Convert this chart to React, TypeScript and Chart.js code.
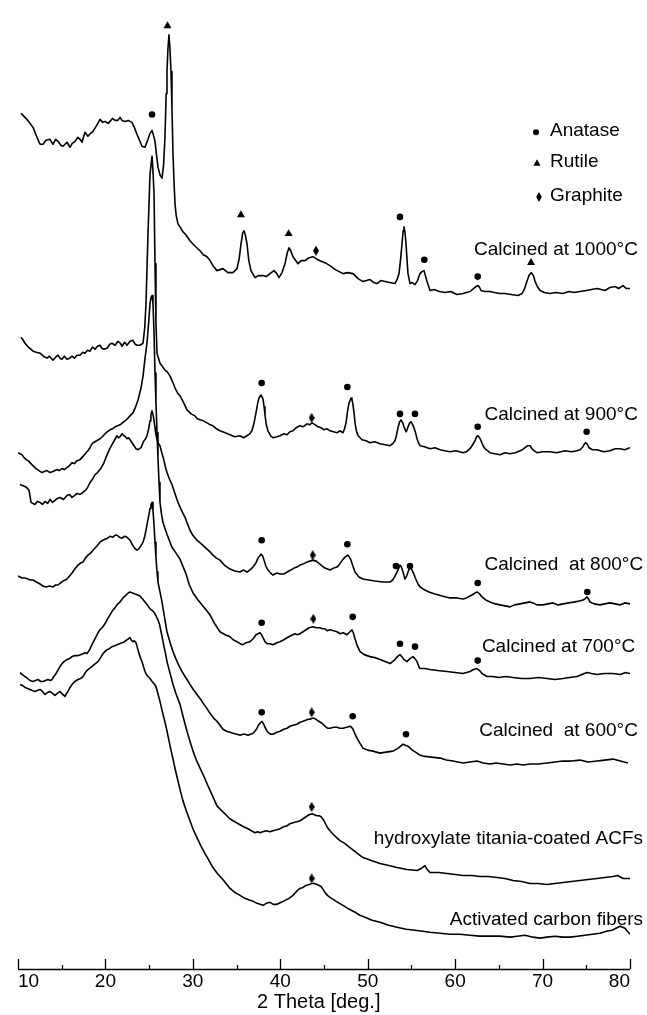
import React, { useEffect, useRef } from 'react';
import { Chart, registerables } from 'chart.js';

Chart.register(...registerables);

// ---------- axis ----------
const xTicks = [10, 20, 30, 40, 50, 60, 70, 80];
const xMinorTicks = [15, 25, 35, 45, 55, 65, 75];
const xTitle = '2 Theta [deg.]';

// ---------- series names (top to bottom) ----------
const seriesNames = [
  'Calcined at 1000°C',
  'Calcined at 900°C',
  'Calcined  at 800°C',
  'Calcined at 700°C',
  'Calcined  at 600°C',
  'hydroxylate titania-coated ACFs',
  'Activated carbon fibers',
];

// ---------- XRD patterns: [2θ, intensity (a.u., stacked)] ----------
const xrd1000: [number, number][] = [[10.34,860],[11.03,854],[11.72,846],[12.17,836],[12.52,829],[12.86,829],[13.2,833],[13.66,834],[14.0,829],[14.3,834],[14.58,832],[14.9,828],[15.15,827],[15.6,831],[15.95,826],[16.2,830],[16.52,832],[16.86,836],[17.1,834],[17.32,831],[17.66,841],[18.0,837],[18.3,840],[18.58,842],[19.0,848],[19.38,854],[19.7,851],[19.95,852],[20.3,850],[20.52,852],[20.8,855],[21.1,853],[21.4,853],[21.67,856],[21.9,853],[22.24,852],[22.6,853],[23.04,851],[23.3,846],[23.61,839],[23.9,833],[24.18,827],[24.53,826],[24.87,834],[25.1,840],[25.33,843],[25.5,838],[25.67,832],[25.85,818],[26.01,806],[26.25,798],[26.47,795],[26.65,808],[26.81,836],[26.95,880],[27.04,902],[27.15,925],[27.27,939],[27.38,925],[27.5,902],[27.61,865],[27.73,819],[27.85,790],[27.96,769],[28.1,757],[28.3,749],[28.53,746],[28.87,741],[29.2,738],[29.67,732],[30.2,727],[30.82,722],[31.2,718],[31.62,716],[31.9,713],[32.3,707],[32.76,702],[33.1,703],[33.45,704],[34.0,700],[34.59,700],[35.05,704],[35.3,714],[35.51,729],[35.7,740],[35.85,742],[36.0,738],[36.19,729],[36.4,712],[36.65,702],[37.11,695],[37.5,697],[38.02,697],[38.4,696],[38.82,699],[39.28,702],[39.6,699],[39.85,695],[40.2,700],[40.54,709],[40.8,720],[41.0,725],[41.2,722],[41.45,716],[42.03,709],[42.4,712],[42.83,712],[43.3,715],[43.74,716],[44.1,714],[44.54,712],[45.1,710],[45.68,707],[46.3,703],[47.17,699],[47.7,700],[48.32,699],[48.9,694],[49.46,691],[50.26,693],[50.7,690],[51.06,689],[51.5,692],[51.98,691],[52.5,690],[53.12,689],[53.4,694],[53.58,699],[53.78,715],[53.92,729],[54.05,742],[54.15,746],[54.27,740],[54.38,729],[54.5,712],[54.61,699],[54.84,689],[55.1,690],[55.41,688],[55.7,692],[55.98,699],[56.2,701],[56.44,702],[56.6,697],[56.78,691],[57.13,682],[57.6,683],[58.2,681],[58.84,680],[59.5,681],[60.2,678],[60.9,679],[61.3,680],[61.7,681],[62.1,684],[62.39,686],[62.62,687],[62.8,685],[62.96,682],[63.4,681],[63.99,681],[64.5,680],[65.1,679],[65.7,679],[66.4,678],[67.19,677],[67.65,679],[67.95,684],[68.2,691],[68.45,697],[68.7,700],[68.95,697],[69.15,691],[69.4,686],[69.71,682],[70.2,680],[70.85,679],[71.5,680],[72.34,679],[73.0,681],[73.6,680],[74.28,681],[75.0,682],[75.6,683],[76.23,684],[76.7,683],[77.14,682],[77.7,685],[78.28,686],[78.7,684],[79.2,687],[79.6,684],[80.0,684]];

const xrd900: [number, number][] = [[10.34,635],[10.6,632],[10.8,629],[11.2,625],[11.72,621],[12.1,620],[12.52,619],[12.9,616],[13.32,614],[13.6,616],[14.0,612],[14.3,615],[14.58,617],[14.8,614],[15.03,613],[15.3,616],[15.6,613],[15.9,614],[16.18,616],[16.45,614],[16.75,617],[17.09,617],[17.4,620],[17.66,619],[17.95,622],[18.24,621],[18.5,625],[18.81,623],[19.1,626],[19.38,627],[19.6,624],[19.84,623],[20.18,624],[20.5,628],[20.75,629],[21.1,627],[21.44,631],[21.7,629],[21.9,626],[22.2,630],[22.47,627],[22.81,631],[23.15,632],[23.4,628],[23.61,627],[23.95,627],[24.3,629],[24.5,645],[24.64,669],[24.87,739],[25.1,799],[25.33,817],[25.45,800],[25.56,779],[25.67,709],[25.78,649],[25.9,619],[26.24,609],[26.5,606],[26.81,602],[27.1,600],[27.39,596],[27.7,590],[27.96,584],[28.25,579],[28.53,576],[28.9,570],[29.33,562],[29.8,558],[30.24,556],[30.5,553],[30.82,552],[31.2,551],[31.62,549],[32.0,547],[32.3,546],[32.7,543],[33.1,541],[33.7,539],[34.25,537],[34.8,535],[35.39,536],[35.8,534],[36.19,536],[36.5,538],[36.76,541],[37.0,549],[37.22,559],[37.4,568],[37.56,574],[37.79,577],[38.02,573],[38.15,565],[38.25,557],[38.4,547],[38.59,541],[38.9,536],[39.17,534],[39.6,535],[39.97,536],[40.4,538],[40.77,537],[41.1,540],[41.45,541],[41.8,544],[42.25,546],[42.6,545],[43.05,548],[43.35,547],[43.63,549],[44.0,547],[44.31,545],[44.7,544],[45.0,542],[45.35,543],[45.68,541],[46.1,540],[46.49,539],[46.8,541],[47.17,539],[47.35,543],[47.52,549],[47.7,561],[47.86,569],[48.09,574],[48.2,572],[48.32,567],[48.45,558],[48.55,549],[48.7,541],[48.9,536],[49.35,532],[49.8,531],[50.26,529],[50.8,530],[51.41,528],[52.0,527],[52.55,526],[52.85,528],[53.12,531],[53.3,537],[53.46,544],[53.65,550],[53.81,552],[54.0,549],[54.15,545],[54.38,540],[54.5,542],[54.61,545],[54.8,549],[54.95,550],[55.1,548],[55.29,544],[55.5,538],[55.64,533],[55.8,529],[55.98,526],[56.5,525],[57.12,523],[57.7,524],[58.27,522],[58.8,521],[59.41,520],[60.1,521],[60.9,519],[61.3,520],[61.7,523],[62.0,527],[62.27,531],[62.45,535],[62.62,536],[62.8,534],[62.96,531],[63.2,526],[63.41,523],[63.7,521],[63.99,519],[64.5,518],[65.13,517],[65.7,519],[66.27,518],[66.9,519],[67.42,521],[67.7,522],[67.99,524],[68.3,526],[68.56,526],[68.8,523],[69.02,521],[69.36,519],[70.0,520],[70.85,520],[71.6,519],[72.57,521],[73.3,520],[73.94,521],[74.3,522],[74.62,525],[74.8,528],[74.97,529],[75.15,527],[75.31,524],[75.7,522],[76.23,522],[77.0,520],[77.71,521],[78.3,523],[78.85,523],[79.4,522],[80.0,524]];

const xrd800: [number, number][] = [[10.23,487],[10.5,486],[10.8,485],[11.1,483],[11.26,481],[11.4,474],[11.49,469],[11.7,468],[11.94,467],[12.2,470],[12.52,469],[12.8,467],[13.09,470],[13.4,468],[13.66,472],[13.95,469],[14.23,471],[14.5,473],[14.8,474],[15.2,472],[15.6,476],[15.9,477],[16.18,474],[16.5,476],[16.75,478],[17.1,477],[17.43,479],[17.7,481],[17.89,483],[18.24,489],[18.5,492],[18.81,497],[19.1,499],[19.38,502],[19.6,505],[19.84,509],[20.05,514],[20.29,519],[20.5,523],[20.75,527],[21.0,531],[21.32,536],[21.5,534],[21.67,535],[21.9,538],[22.12,536],[22.3,535],[22.47,533],[22.65,534],[22.81,532],[23.05,529],[23.27,526],[23.5,523],[23.73,522],[23.9,523],[24.07,524],[24.25,528],[24.41,531],[24.6,533],[24.75,536],[24.95,543],[25.1,551],[25.2,557],[25.33,561],[25.45,557],[25.56,551],[25.67,544],[25.78,537],[26.01,529],[26.24,526],[26.45,519],[26.7,511],[26.85,505],[27.04,499],[27.3,493],[27.61,487],[27.95,478],[28.3,469],[28.7,461],[29.1,454],[29.4,447],[29.67,441],[30.0,436],[30.47,431],[31.0,427],[31.62,422],[32.0,419],[32.3,416],[32.7,413],[33.1,411],[33.6,406],[34.25,402],[34.8,400],[35.39,399],[35.8,401],[36.19,399],[36.5,401],[36.88,404],[37.2,408],[37.45,413],[37.79,417],[38.0,415],[38.14,411],[38.35,405],[38.59,401],[38.9,398],[39.17,396],[39.6,398],[39.97,397],[40.4,397],[40.77,399],[41.2,401],[41.57,403],[41.9,404],[42.25,406],[42.6,407],[43.05,409],[43.4,410],[43.74,411],[44.1,410],[44.54,407],[44.8,405],[45.11,403],[45.4,402],[45.68,401],[46.1,403],[46.49,404],[46.7,406],[46.94,409],[47.2,412],[47.4,414],[47.74,416],[47.9,414],[48.09,411],[48.3,405],[48.55,399],[49.0,394],[49.46,392],[50.1,391],[50.83,390],[51.7,389],[52.55,389],[52.85,391],[53.12,395],[53.4,400],[53.69,406],[53.85,404],[54.04,399],[54.26,392],[54.45,395],[54.61,399],[54.84,404],[55.0,402],[55.18,399],[55.45,393],[55.75,387],[56.0,384],[56.32,382],[57.0,379],[57.69,377],[58.5,375],[59.41,373],[60.2,373],[60.9,372],[61.3,373],[61.7,375],[62.1,377],[62.5,379],[62.8,377],[63.07,374],[63.5,371],[63.99,369],[64.6,367],[65.13,366],[65.7,365],[66.27,364],[66.8,366],[67.42,367],[68.0,368],[68.56,369],[68.9,368],[69.36,366],[70.05,366],[70.6,367],[71.19,368],[71.8,366],[72.34,367],[73.0,368],[73.71,369],[74.2,370],[74.62,371],[74.85,372],[75.08,374],[75.25,372],[75.42,369],[75.9,367],[76.57,366],[77.1,367],[77.71,368],[78.3,367],[78.85,366],[79.4,368],[80.0,367]];

const xrd700: [number, number][] = [[10.0,519],[10.23,518],[10.46,517],[10.7,514],[10.92,512],[11.15,511],[11.37,509],[11.7,506],[12.06,503],[12.4,501],[12.75,499],[13.0,500],[13.32,501],[13.5,500],[13.66,499],[14.0,500],[14.46,502],[14.7,501],[15.03,503],[15.3,502],[15.6,504],[15.9,506],[16.18,509],[16.45,508],[16.75,511],[17.09,512],[17.4,515],[17.78,519],[18.0,521],[18.24,524],[18.4,527],[18.58,529],[19.0,531],[19.38,533],[19.65,535],[19.95,538],[20.2,540],[20.52,542],[20.8,543],[21.1,545],[21.4,546],[21.67,547],[21.95,549],[22.24,551],[22.5,553],[22.81,556],[23.15,559],[23.45,565],[23.73,572],[24.07,584],[24.3,596],[24.53,614],[24.75,629],[24.98,654],[25.1,669],[25.22,675],[25.33,677],[25.44,669],[25.56,639],[25.67,599],[25.78,569],[25.9,539],[26.01,514],[26.13,489],[26.24,469],[26.4,458],[26.58,449],[26.8,443],[27.04,437],[27.3,431],[27.61,424],[28.0,419],[28.53,412],[28.9,404],[29.22,397],[29.6,386],[30.02,378],[30.5,372],[31.05,366],[31.5,361],[31.96,356],[32.5,347],[33.1,339],[33.7,336],[34.25,334],[34.6,331],[35.05,329],[35.4,327],[35.73,326],[36.1,328],[36.53,329],[36.9,332],[37.22,336],[37.45,337],[37.68,338],[37.85,336],[38.02,333],[38.25,329],[38.48,327],[38.8,327],[39.17,326],[39.6,328],[39.97,329],[40.4,331],[40.77,333],[41.2,335],[41.68,337],[41.95,336],[42.25,337],[42.6,339],[42.94,341],[43.3,343],[43.74,344],[44.1,343],[44.54,343],[44.8,342],[45.11,342],[45.4,340],[45.68,341],[46.1,340],[46.49,339],[46.83,337],[47.2,338],[47.63,336],[47.97,339],[48.2,341],[48.35,338],[48.55,332],[48.8,325],[49.12,319],[49.6,316],[50.26,314],[50.8,313],[51.41,311],[52.0,309],[52.55,307],[52.85,309],[53.12,311],[53.4,314],[53.69,316],[53.9,314],[54.15,311],[54.49,309],[54.84,312],[55.18,314],[55.4,312],[55.64,309],[55.8,305],[55.98,302],[56.5,302],[57.12,301],[58.0,300],[59.07,299],[60.0,298],[60.9,297],[61.3,298],[61.7,299],[62.1,301],[62.5,302],[62.8,300],[63.07,297],[63.64,294],[64.3,294],[65.0,293],[65.8,294],[66.62,293],[67.6,292],[68.56,292],[69.5,293],[70.5,292],[71.4,291],[72.34,292],[73.1,293],[73.94,294],[74.5,296],[75.08,298],[75.6,297],[76.23,296],[77.1,297],[78.05,297],[78.9,296],[79.5,298],[80.0,297]];

const xrd600: [number, number][] = [[10.0,395],[10.23,394],[10.46,393],[10.8,393],[11.14,392],[11.4,391],[11.72,391],[12.1,389],[12.52,387],[12.85,385],[13.2,384],[13.6,385],[14.0,384],[14.3,386],[14.58,386],[14.85,388],[15.15,390],[15.4,391],[15.6,392],[15.9,395],[16.18,398],[16.5,402],[16.86,406],[17.15,408],[17.43,409],[17.7,413],[18.0,416],[18.3,418],[18.58,421],[19.0,425],[19.38,429],[19.7,431],[19.95,432],[20.25,433],[20.52,435],[20.87,434],[21.1,436],[21.32,436],[21.6,434],[21.9,433],[22.2,435],[22.47,434],[22.81,431],[23.05,427],[23.27,424],[23.45,422],[23.61,421],[23.8,422],[23.95,424],[24.1,426],[24.3,429],[24.5,435],[24.64,441],[24.8,449],[24.98,457],[25.1,463],[25.21,467],[25.33,469],[25.44,461],[25.56,446],[25.67,429],[25.78,414],[25.9,399],[26.01,389],[26.24,379],[26.47,369],[26.75,354],[27.04,339],[27.4,328],[27.73,319],[28.0,313],[28.3,307],[28.7,300],[29.1,294],[29.4,290],[29.67,286],[30.05,281],[30.47,276],[30.9,271],[31.27,266],[31.6,262],[31.96,257],[32.4,252],[32.76,249],[33.1,245],[33.45,241],[33.85,239],[34.25,238],[34.6,237],[35.05,236],[35.4,235],[35.73,236],[36.0,236],[36.31,235],[36.6,236],[36.88,237],[37.1,239],[37.34,242],[37.5,245],[37.68,247],[37.91,249],[38.1,246],[38.25,243],[38.5,239],[38.71,237],[38.95,236],[39.17,236],[39.6,238],[39.97,239],[40.4,241],[40.77,242],[41.1,244],[41.45,245],[41.91,246],[42.25,248],[42.6,249],[42.9,250],[43.17,251],[43.4,251],[43.63,252],[43.85,252],[44.08,251],[44.4,249],[44.77,247],[45.0,245],[45.23,243],[45.45,242],[45.68,242],[46.1,243],[46.49,243],[46.8,242],[47.17,242],[47.6,243],[47.97,244],[48.15,243],[48.32,241],[48.55,236],[48.77,232],[49.1,227],[49.46,222],[50.0,220],[50.6,219],[51.0,218],[51.41,217],[52.1,218],[52.89,219],[53.5,222],[54.04,226],[54.3,225],[54.61,224],[55.1,220],[55.64,217],[55.95,215],[56.32,214],[57.3,213],[58.27,212],[59.0,210],[59.75,209],[60.3,208],[60.9,207],[61.7,208],[62.5,209],[63.2,207],[63.99,206],[64.7,207],[65.47,206],[66.3,205],[67.07,206],[67.8,205],[68.56,206],[69.5,206],[70.5,207],[71.4,208],[72.34,209],[73.3,209],[74.28,210],[75.2,208],[76.23,209],[77.1,210],[78.05,211],[78.9,209],[79.77,207]];

const xrdHydroxylate: [number, number][] = [[10.23,298],[10.5,296],[10.8,294],[11.1,292],[11.37,290],[11.72,289],[12.0,290],[12.29,291],[12.6,289],[12.86,289],[13.15,290],[13.43,291],[13.7,290],[13.89,291],[14.1,294],[14.35,297],[14.6,301],[14.8,304],[15.05,307],[15.26,309],[15.6,311],[15.9,312],[16.18,314],[16.5,315],[16.86,315],[17.15,316],[17.43,317],[17.7,318],[17.89,317],[18.2,321],[18.46,326],[18.7,330],[18.92,334],[19.15,338],[19.38,341],[19.72,344],[19.95,347],[20.18,351],[20.52,356],[20.87,361],[21.1,363],[21.32,366],[21.67,369],[22.01,373],[22.25,375],[22.47,377],[22.81,379],[23.1,378],[23.38,377],[23.7,376],[23.95,375],[24.25,372],[24.53,369],[24.8,366],[25.1,362],[25.4,360],[25.67,357],[26.01,351],[26.2,346],[26.36,339],[26.55,331],[26.7,324],[26.9,316],[27.04,309],[27.4,297],[27.73,286],[28.1,276],[28.53,266],[28.9,253],[29.33,239],[29.7,228],[30.02,219],[30.4,210],[30.82,202],[31.3,193],[31.73,184],[32.2,175],[32.76,164],[33.2,160],[33.68,156],[34.1,152],[34.59,149],[35.0,147],[35.39,145],[35.8,143],[36.31,141],[36.7,139],[37.11,137],[37.4,138],[37.68,137],[38.0,138],[38.37,139],[38.8,138],[39.17,139],[39.6,140],[39.97,141],[40.4,143],[40.77,144],[41.1,146],[41.45,147],[41.9,148],[42.25,149],[42.6,151],[42.94,153],[43.3,155],[43.63,156],[43.9,155],[44.2,154],[44.45,154],[44.66,153],[44.85,151],[45.0,149],[45.17,146],[45.34,143],[45.5,141],[45.68,139],[46.2,134],[46.83,129],[47.4,126],[47.97,122],[48.7,117],[49.46,112],[50.4,109],[51.41,106],[52.4,104],[53.35,102],[54.5,100],[55.64,99],[56.1,101],[56.55,104],[56.8,100],[57.12,97],[58.1,97],[59.07,96],[60.0,95],[60.9,94],[61.9,94],[62.84,93],[63.8,93],[64.79,92],[65.7,91],[66.62,89],[67.6,88],[68.56,86],[69.5,86],[70.5,85],[71.4,86],[72.34,87],[73.3,88],[74.28,89],[75.2,90],[76.23,91],[77.1,92],[78.05,93],[78.6,94],[79.2,91],[80.0,91]];

const xrdACF: [number, number][] = [[10.23,286],[10.5,285],[10.8,283],[11.1,282],[11.37,281],[11.65,280],[11.94,279],[12.2,280],[12.52,281],[12.8,279],[13.09,276],[13.4,278],[13.66,279],[13.95,277],[14.23,275],[14.5,277],[14.8,279],[15.1,276],[15.38,274],[15.55,277],[15.72,279],[15.95,283],[16.18,286],[16.5,289],[16.86,291],[17.15,292],[17.43,294],[17.7,298],[18.0,301],[18.3,303],[18.58,305],[18.85,307],[19.15,309],[19.45,313],[19.72,317],[19.95,319],[20.18,321],[20.45,322],[20.75,324],[21.05,325],[21.32,326],[21.6,327],[21.9,328],[22.2,329],[22.47,331],[22.65,332],[22.81,333],[23.0,330],[23.15,329],[23.3,330],[23.5,328],[23.65,323],[23.84,317],[24.0,313],[24.18,309],[24.35,304],[24.53,299],[24.7,296],[24.87,294],[25.1,292],[25.33,289],[25.55,287],[25.78,284],[26.0,277],[26.24,269],[26.45,261],[26.7,252],[26.95,243],[27.16,234],[27.45,222],[27.73,211],[28.0,200],[28.3,189],[28.6,178],[28.87,169],[29.25,159],[29.67,149],[30.05,140],[30.47,132],[30.9,124],[31.39,116],[31.85,109],[32.3,102],[32.8,96],[33.33,91],[33.8,86],[34.25,81],[34.8,77],[35.39,74],[35.95,71],[36.53,69],[36.9,68],[37.34,66],[37.7,65],[38.02,64],[38.4,66],[38.82,67],[39.2,65],[39.62,65],[40.1,67],[40.54,69],[41.0,71],[41.45,74],[41.85,78],[42.25,81],[42.6,82],[42.94,84],[43.3,85],[43.63,86],[43.9,86],[44.2,85],[44.45,84],[44.66,83],[44.9,80],[45.11,77],[45.4,74],[45.68,72],[46.4,68],[47.17,64],[47.9,60],[48.55,57],[49.1,54],[49.69,52],[50.5,49],[51.41,47],[52.4,44],[53.35,42],[54.4,40],[55.41,39],[56.3,38],[57.12,37],[58.3,36],[59.41,35],[60.5,35],[61.7,34],[62.8,33],[63.99,33],[65.1,33],[66.27,32],[67.1,33],[67.99,34],[68.9,32],[69.71,31],[70.5,32],[71.42,33],[72.3,32],[73.14,32],[74.0,33],[74.85,34],[75.7,35],[76.57,36],[77.3,38],[77.94,39],[78.4,41],[78.85,43],[79.15,42],[79.43,41],[79.7,38],[80.0,35]];

// ---------- phase markers: [2θ, intensity] ----------
const anataseMarks: [number, number][] = [[25.33,859],[53.69,756],[56.47,713],[62.58,696],[37.87,589],[47.67,585],[53.69,558],[55.41,558],[62.58,545],[75.04,540],[37.87,431],[47.67,427],[53.23,405],[54.84,405],[62.58,388],[75.12,379],[37.87,348],[48.28,354],[53.69,327],[55.41,324],[62.58,310],[37.87,258],[48.28,254],[54.38,236]];
const rutileMarks: [number, number][] = [[27.1,948],[35.5,758],[40.96,739],[68.68,710]];
const graphiteMarks: [number, number][] = [[44.08,722],[43.59,554],[43.7,416],[43.78,352],[43.59,258],[43.59,163],[43.59,91]];

const legendNames = ['Anatase', 'Rutile', 'Graphite'];

// label anchors (right edge / baseline), in data units
const labelAnchorX = [80.9, 80.9, 81.5, 80.6, 80.9, 81.5, 81.5];
const labelAnchorY = [718, 552, 401, 319, 234, 126, 44];
// legend anchors in data units
const legendMarkX = [69.25, 69.36, 69.59];
const legendMarkY = [841, 810, 776];
const legendTextX = 70.85;
const legendTextY = [837, 806, 772];

const FONT = '"Liberation Sans", Arial, Helvetica, sans-serif';

function makeDiamond(w: number, h: number): HTMLCanvasElement {
  const c = document.createElement('canvas');
  c.width = w;
  c.height = h;
  const ctx = c.getContext('2d')!;
  ctx.fillStyle = '#000';
  ctx.beginPath();
  ctx.moveTo(w / 2, 0);
  ctx.lineTo(w, h / 2);
  ctx.lineTo(w / 2, h);
  ctx.lineTo(0, h / 2);
  ctx.closePath();
  ctx.fill();
  return c;
}

const decorPlugin = {
  id: 'decor',
  afterDraw(chart: any) {
    const { ctx, chartArea } = chart;
    const xs = chart.scales.x;
    const ys = chart.scales.y;
    ctx.save();
    const b = chartArea.bottom;
    // axis line
    ctx.strokeStyle = '#000';
    ctx.lineWidth = 1.5;
    ctx.beginPath();
    ctx.moveTo(xs.getPixelForValue(xTicks[0]), b + 0.5);
    ctx.lineTo(xs.getPixelForValue(xTicks[xTicks.length - 1]), b + 0.5);
    ctx.stroke();
    // inward ticks
    ctx.lineWidth = 1.3;
    xTicks.forEach((v) => {
      const px = Math.round(xs.getPixelForValue(v)) + 0.5;
      ctx.beginPath();
      ctx.moveTo(px, b);
      ctx.lineTo(px, b - 10);
      ctx.stroke();
    });
    xMinorTicks.forEach((v) => {
      const px = Math.round(xs.getPixelForValue(v)) + 0.5;
      ctx.beginPath();
      ctx.moveTo(px, b);
      ctx.lineTo(px, b - 4);
      ctx.stroke();
    });
    // tick labels
    ctx.fillStyle = '#000';
    ctx.font = `19px ${FONT}`;
    ctx.textBaseline = 'alphabetic';
    xTicks.forEach((v, i) => {
      ctx.textAlign = i === 0 ? 'left' : i === xTicks.length - 1 ? 'right' : 'center';
      ctx.fillText(String(v), xs.getPixelForValue(v), b + 18);
    });
    // axis title
    ctx.font = `20px ${FONT}`;
    ctx.textAlign = 'center';
    ctx.fillText(xTitle, xs.getPixelForValue(44.4), b + 39);
    // series labels
    ctx.font = `19px ${FONT}`;
    ctx.textAlign = 'right';
    seriesNames.forEach((n, i) => {
      ctx.fillText(n, xs.getPixelForValue(labelAnchorX[i]), ys.getPixelForValue(labelAnchorY[i]));
    });
    // legend
    ctx.textAlign = 'left';
    legendNames.forEach((n, i) => {
      ctx.fillText(n, xs.getPixelForValue(legendTextX), ys.getPixelForValue(legendTextY[i]));
    });
    const mx = legendMarkX.map((v) => xs.getPixelForValue(v));
    const my = legendMarkY.map((v) => ys.getPixelForValue(v));
    ctx.beginPath();
    ctx.arc(mx[0], my[0], 3, 0, Math.PI * 2);
    ctx.fill();
    ctx.beginPath();
    ctx.moveTo(mx[1], my[1] - 4);
    ctx.lineTo(mx[1] + 3.6, my[1] + 2.6);
    ctx.lineTo(mx[1] - 3.6, my[1] + 2.6);
    ctx.closePath();
    ctx.fill();
    ctx.beginPath();
    ctx.moveTo(mx[2], my[2] - 5);
    ctx.lineTo(mx[2] + 2.8, my[2]);
    ctx.lineTo(mx[2], my[2] + 5);
    ctx.lineTo(mx[2] - 2.8, my[2]);
    ctx.closePath();
    ctx.fill();
    ctx.restore();
  },
};

export default function App() {
  const ref = useRef<HTMLCanvasElement | null>(null);

  useEffect(() => {
    if (!ref.current) return;
    const toXY = (arr: [number, number][]) => arr.map(([x, y]) => ({ x, y }));
    const curves = [xrd1000, xrd900, xrd800, xrd700, xrd600, xrdHydroxylate, xrdACF];
    const diamond = makeDiamond(6, 10);
    const datasets: any[] = [
      {
        label: 'Anatase',
        data: toXY(anataseMarks),
        showLine: false,
        pointStyle: 'circle',
        pointRadius: 3.3,
        pointBackgroundColor: '#000',
        pointBorderWidth: 0,
      },
      {
        label: 'Rutile',
        data: toXY(rutileMarks),
        showLine: false,
        pointStyle: 'triangle',
        pointRadius: 4.6,
        pointBackgroundColor: '#000',
        pointBorderWidth: 0,
      },
      {
        label: 'Graphite',
        data: toXY(graphiteMarks),
        showLine: false,
        pointStyle: diamond,
        pointRadius: 5,
        pointBorderWidth: 0,
      },
      ...curves.map((c, i) => ({
        label: seriesNames[i],
        data: toXY(c),
        showLine: true,
        borderColor: '#000',
        borderWidth: 1.6,
        borderJoinStyle: 'round',
        pointRadius: 0,
        fill: false,
        tension: 0,
      })),
    ];

    const chart = new Chart(ref.current, {
      type: 'scatter',
      data: { datasets },
      options: {
        animation: false,
        responsive: false,
        devicePixelRatio: 1,
        events: [],
        layout: { padding: { left: 18, right: 17, top: 0, bottom: 46 } },
        plugins: { legend: { display: false }, tooltip: { enabled: false } },
        scales: {
          x: {
            type: 'linear',
            display: false,
            position: 'bottom',
            min: 10,
            max: 80,
            title: { display: false, text: xTitle },
          },
          y: { display: false, min: 0, max: 969 },
        },
      } as any,
      plugins: [decorPlugin],
    });
    return () => chart.destroy();
  }, []);

  return (
    <div style={{ position: 'fixed', left: 0, top: 0, width: 647, height: 1015, background: '#fff' }}>
      <canvas ref={ref} width={647} height={1015} style={{ display: 'block', width: 647, height: 1015 }} />
    </div>
  );
}
